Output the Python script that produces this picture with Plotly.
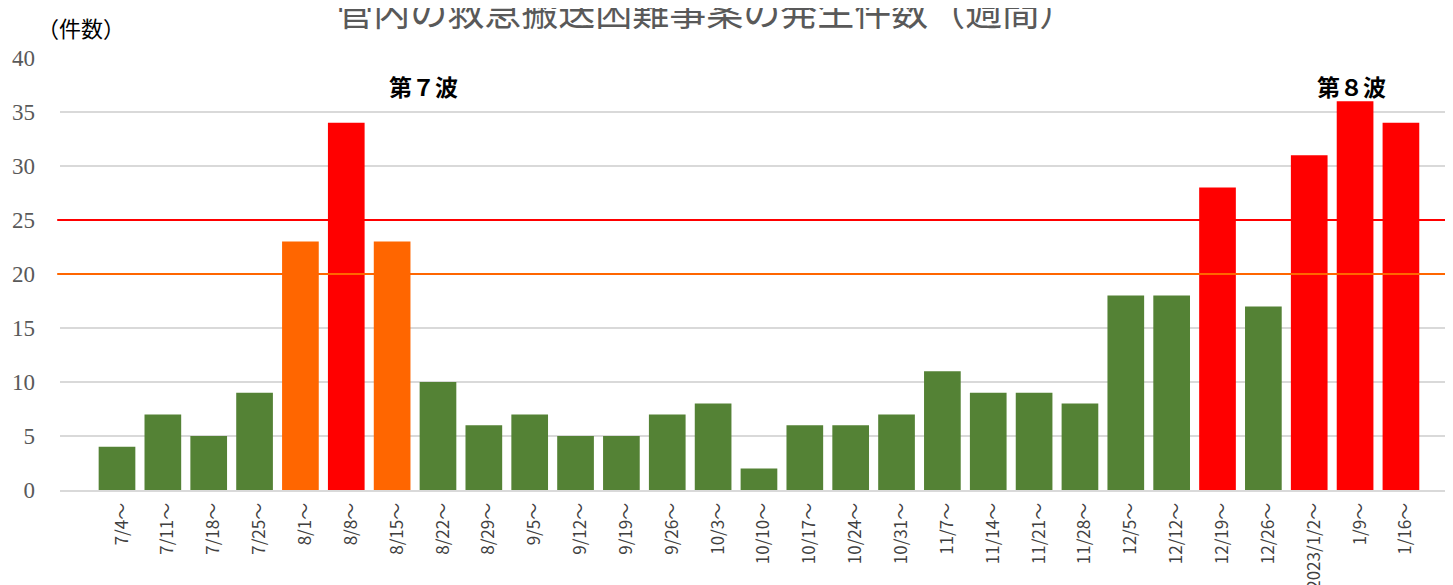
import plotly.graph_objects as go

categories = ["7/4～", "7/11～", "7/18～", "7/25～", "8/1～", "8/8～", "8/15～", "8/22～", "8/29～",
              "9/5～", "9/12～", "9/19～", "9/26～", "10/3～", "10/10～", "10/17～", "10/24～", "10/31～",
              "11/7～", "11/14～", "11/21～", "11/28～", "12/5～", "12/12～", "12/19～", "12/26～",
              "2023/1/2～", "1/9～", "1/16～"]
counts = [4, 7, 5, 9, 23, 34, 23, 10, 6, 7, 5, 5, 7, 8, 2, 6, 6, 7, 11, 9, 9, 8, 18, 18, 28, 17, 31, 36, 34]
threshold_red = 25
threshold_orange = 20

GREEN = "#548235"
ORANGE = "#FF6600"
RED = "#FF0000"

def bar_color(v):
    if v >= threshold_red:
        return RED
    if v >= threshold_orange:
        return ORANGE
    return GREEN

colors = [bar_color(v) for v in counts]

fig = go.Figure()
fig.add_trace(go.Bar(x=categories, y=counts, marker=dict(color=colors, line=dict(width=0)),
                     width=0.8, showlegend=False))

fig.add_shape(type="line", xref="paper", x0=-0.002, x1=1, yref="y", y0=threshold_red, y1=threshold_red,
              line=dict(color=RED, width=2), layer="above")
fig.add_shape(type="line", xref="paper", x0=-0.002, x1=1, yref="y", y0=threshold_orange, y1=threshold_orange,
              line=dict(color=ORANGE, width=2), layer="above")

fig.add_annotation(x=6.69, y=37.4, xref="x", yref="y", text="<b>第７波</b>", showarrow=False,
                   font=dict(size=23, color="#000000", family="Noto Sans CJK JP"))
fig.add_annotation(x=26.93, y=37.4, xref="x", yref="y", text="<b>第８波</b>", showarrow=False,
                   font=dict(size=23, color="#000000", family="Noto Sans CJK JP"))
fig.add_annotation(xref="paper", yref="paper", x=-0.018, y=1.072, xanchor="left", yanchor="middle",
                   text="（件数）", showarrow=False,
                   font=dict(size=22, color="#000000", family="Noto Sans CJK JP"))

fig.update_layout(
    width=1453, height=585,
    margin=dict(l=52, r=0, t=50, b=103),
    paper_bgcolor="white", plot_bgcolor="white",
    title=dict(text="管内の救急搬送困難事案の発生件数（週間）", x=0.4805, xanchor="center",
               y=0.992, yanchor="middle", yref="container",
               font=dict(size=37, color="#595959", family="Noto Sans CJK JP")),
    bargap=0.19,
    xaxis=dict(type="category", range=[-1.243, 29.31], tickangle=-90, automargin=False,
               tickfont=dict(size=17, color="#404040", family="Noto Sans CJK JP"),
               ticklabelshift=5, ticklabelstandoff=4,
               showgrid=False, showline=True, linecolor="#D9D9D9", linewidth=2, ticks=""),
    yaxis=dict(range=[0, 40], dtick=5, showgrid=True, gridcolor="#D9D9D9", gridwidth=1.5,
               zeroline=False, ticklabelstandoff=24, automargin=False,
               tickfont=dict(size=23, color="#595959", family="Liberation Serif")),
)

fig.write_html("out.html")
